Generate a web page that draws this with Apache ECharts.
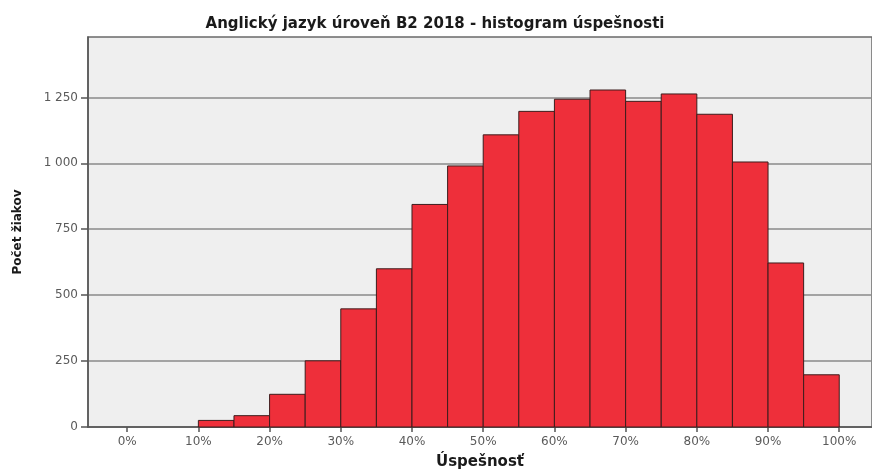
<!DOCTYPE html>
<html>
<head>
<meta charset="utf-8">
<script src="https://cdn.jsdelivr.net/npm/echarts@6/dist/echarts.min.js"></script>
<style>
html,body{margin:0;padding:0;background:#fff;}
#chart{width:872px;height:475px;}
</style>
</head>
<body>
<div id="chart"></div>
<script>
const chartTitle = 'Anglický jazyk úroveň B2 2018 - histogram úspešnosti';
const xAxisTitle = 'Úspešnosť';
const yAxisTitle = 'Počet žiakov';
const binStarts = [10, 15, 20, 25, 30, 35, 40, 45, 50, 55, 60, 65, 70, 75, 80, 85, 90, 95];
const binEnds   = [15, 20, 25, 30, 35, 40, 45, 50, 55, 60, 65, 70, 75, 80, 85, 90, 95, 100];
const counts    = [25, 43, 124, 251, 448, 600, 844, 990, 1108, 1197, 1243, 1278, 1235, 1263, 1186, 1005, 622, 198];
const xTicks = [0, 10, 20, 30, 40, 50, 60, 70, 80, 90, 100];
const yTicks = [0, 250, 500, 750, 1000, 1250];

const data = binStarts.map((s, i) => [s, binEnds[i], counts[i]]);

function fmtThousands(v) {
  if (v >= 1000) return Math.floor(v / 1000) + ' ' + String(v % 1000).padStart(3, '0');
  return String(v);
}

const chart = echarts.init(document.getElementById('chart'), null, {renderer: 'canvas'});
chart.setOption({
  animation: false,
  backgroundColor: '#ffffff',
  title: {
    text: chartTitle,
    left: 430, textAlign: 'center',
    top: 12,
    textStyle: {fontFamily: 'DejaVu Sans', fontWeight: 'bold', fontSize: 15, color: '#1a1a1a'}
  },
  grid: {
    left: 88, right: 0, top: 37, bottom: 45,
    show: true, backgroundColor: '#efefef', borderColor: '#6a6a6a', borderWidth: 1.5
  },
  xAxis: {
    type: 'value', min: -5.5, max: 104.6,
    name: xAxisTitle, nameLocation: 'middle', nameGap: 28,
    nameTextStyle: {fontFamily: 'DejaVu Sans', fontWeight: 'bold', fontSize: 15, color: '#1a1a1a'},
    axisLine: {show: true, onZero: false, lineStyle: {color: '#555', width: 1.5}},
    axisTick: {show: true, length: 5, customValues: xTicks, lineStyle: {color: '#555', width: 1.5}},
    axisLabel: {customValues: xTicks, formatter: v => v + '%', margin: 9,
      fontFamily: 'DejaVu Sans', fontSize: 12, color: '#5a5a5a'},
    splitLine: {show: false}
  },
  yAxis: {
    type: 'value', min: 0, max: 1479,
    name: yAxisTitle, nameLocation: 'middle', nameGap: 64,
    nameTextStyle: {fontFamily: 'DejaVu Sans', fontWeight: 'bold', fontSize: 12, color: '#1a1a1a'},
    axisLine: {show: true, onZero: false, lineStyle: {color: '#555', width: 1.5}},
    axisTick: {show: true, length: 7, customValues: yTicks, lineStyle: {color: '#555', width: 1.5}},
    axisLabel: {customValues: yTicks, formatter: v => fmtThousands(v), margin: 10,
      fontFamily: 'DejaVu Sans', fontSize: 12, color: '#5a5a5a'},
    splitLine: {show: true, lineStyle: {color: '#8a8a8a', width: 1.5}}
  },
  series: [{
    type: 'custom',
    data: data,
    encode: {x: [0, 1], y: 2},
    renderItem: function (params, api) {
      const p0 = api.coord([api.value(0), api.value(2)]);
      const p1 = api.coord([api.value(1), 0]);
      return {
        type: 'rect',
        shape: {x: p0[0], y: p0[1], width: p1[0] - p0[0], height: p1[1] - p0[1]},
        style: {fill: '#ee2f3a', stroke: '#3d1d1d', lineWidth: 1}
      };
    }
  }]
});
</script>
</body>
</html>
